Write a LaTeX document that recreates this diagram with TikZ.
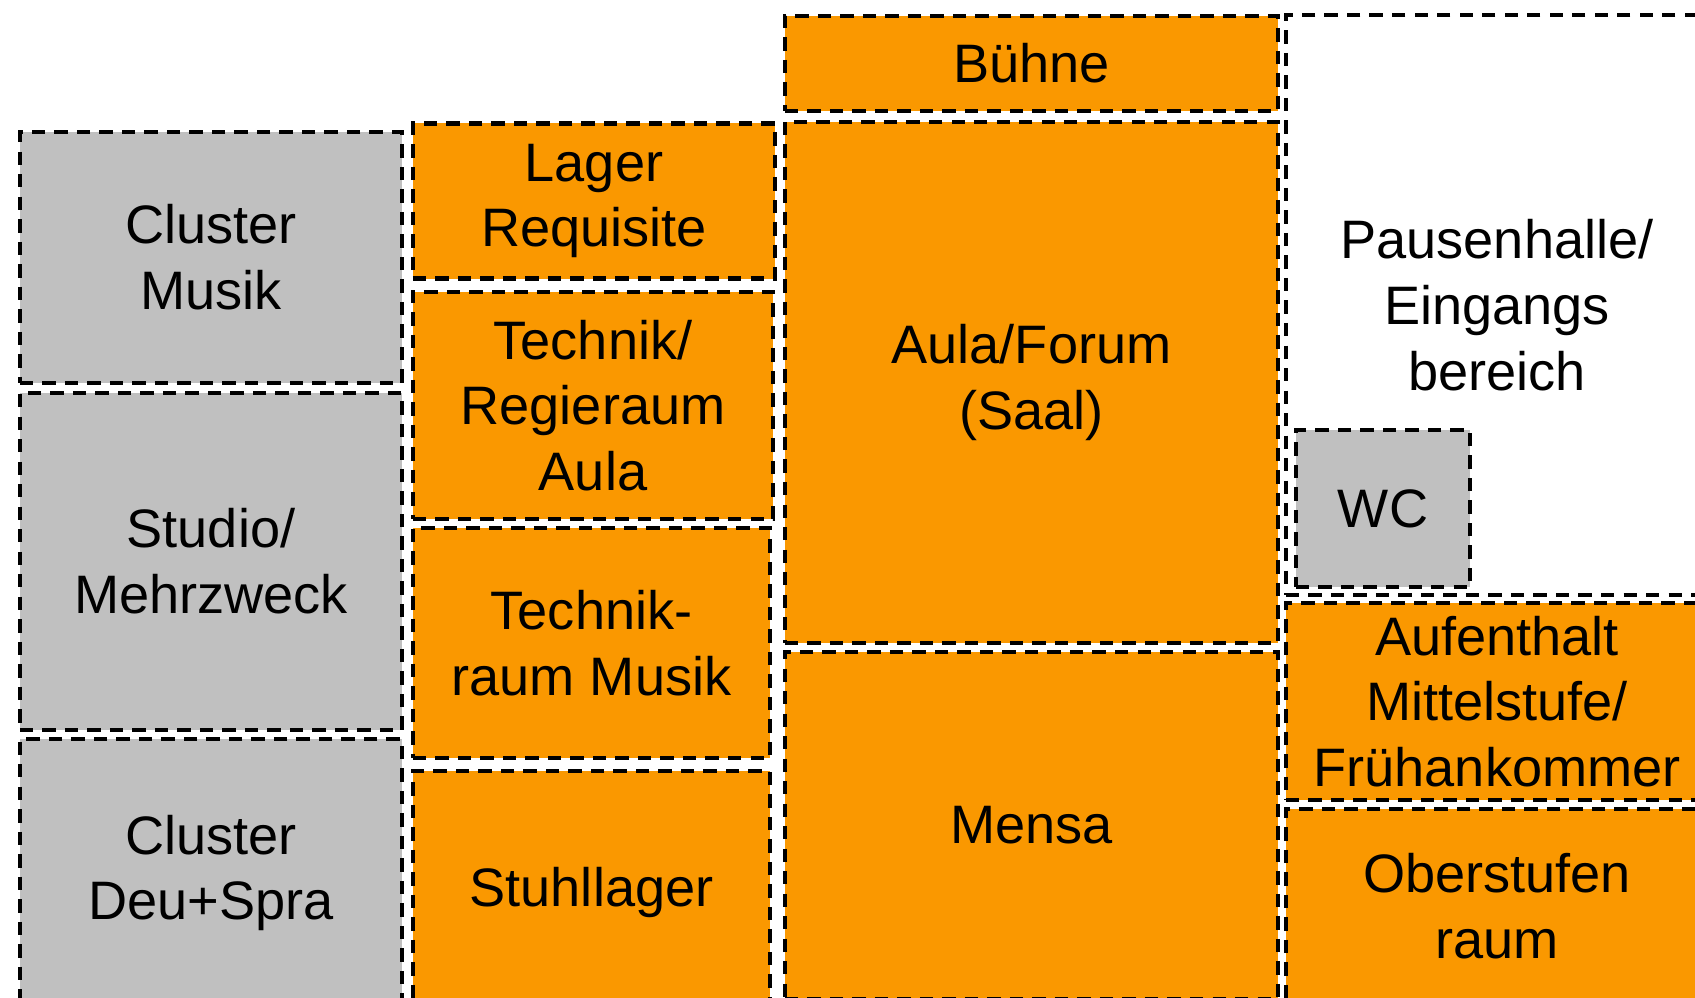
\documentclass[tikz,border=0pt]{standalone}
\usepackage{fontspec}
\setmainfont{Liberation Sans}
\usepackage{tikz}
\usetikzlibrary{positioning}
\definecolor{orng}{RGB}{250,152,0}
\definecolor{grau}{RGB}{192,192,192}
\tikzset{
  room/.style={draw, line width=1.25pt, dash pattern=on 3.8pt off 2.6pt, align=center,
    inner sep=0pt, font=\fontsize{15.4}{18.7}\selectfont},
  ora/.style={room, fill=orng},
  gry/.style={room, fill=grau},
}

\begin{document}
\begin{tikzpicture}[x=0.01cm, y=-0.01cm]
  \clip (0,0) rectangle (1695,998);
  % left column
  \node[gry, minimum width=3.82cm, minimum height=2.51cm] (musik) at (211,257.5) {Cluster\\Musik};
  \node[gry, minimum width=3.82cm, minimum height=3.37cm] (studio) at (211,561.5) {Studio/\\Mehrzweck};
  \node[gry, minimum width=3.82cm, minimum height=2.68cm] (deu) at (211,873) {Cluster\\Deu+Spra};
  % second column
  \node[ora, minimum width=3.62cm, minimum height=1.55cm] (lager) at (594,201) {Lager\\Requisite};
  \node[ora, minimum width=3.60cm, minimum height=2.27cm] (regie) at (593,405.5) {Technik/\\Regieraum\\Aula};
  \node[ora, minimum width=3.57cm, minimum height=2.30cm] (trmusik) at (591.5,643) {Technik-\\raum Musik};
  \node[ora, minimum width=3.57cm, minimum height=2.42cm] (stuhl) at (591.5,892) {Stuhllager};
  % middle column
  \node[ora, minimum width=4.93cm, minimum height=0.95cm] (buehne) at (1031.5,63.5) {Bühne};
  \node[ora, minimum width=4.93cm, minimum height=5.21cm] (aula) at (1031.5,382.5) {Aula/Forum\\(Saal)};
  \node[ora, minimum width=4.93cm, minimum height=3.47cm] (mensa) at (1031.5,825.5) {Mensa};
  % right column
  \node[room, fill=white, minimum width=4.22cm, minimum height=5.80cm] (pause) at (1497,305) {Pausenhalle/\\Eingangs\\bereich};
  \node[gry, minimum width=1.74cm, minimum height=1.57cm] (wc) at (1383,508.5) {WC};
  \node[ora, minimum width=4.22cm, minimum height=1.97cm] (aufent) at (1497,701.5) {Aufenthalt\\Mittelstufe/\\Frühankommer};
  \node[ora, minimum width=4.22cm, minimum height=1.95cm] (ober) at (1497,906.5) {Oberstufen\\raum};
\end{tikzpicture}
\end{document}
